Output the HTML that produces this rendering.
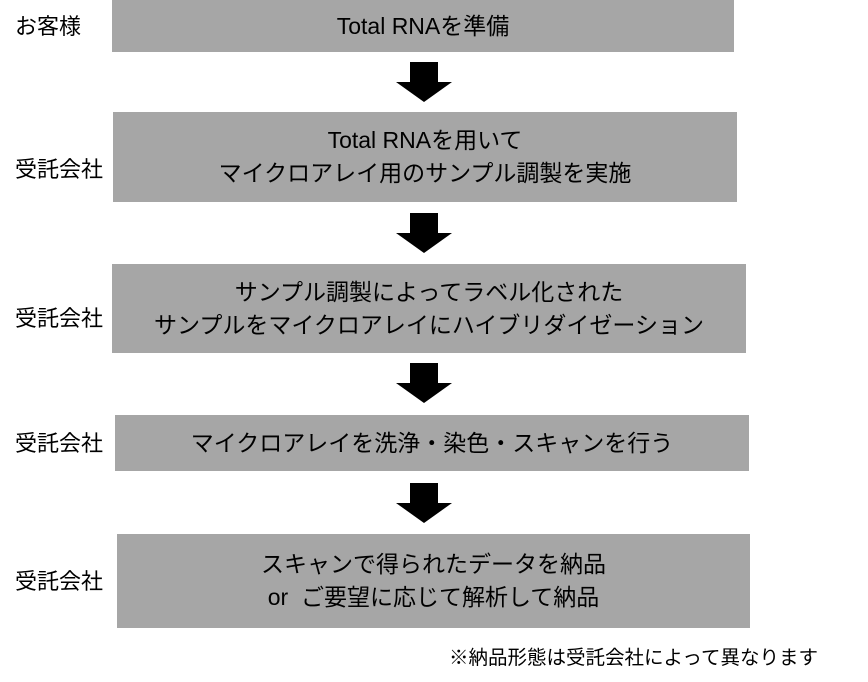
<!DOCTYPE html>
<html><head><meta charset="utf-8"><style>
body{margin:0;width:868px;height:682px;background:#fff;position:relative;overflow:hidden;font-family:"Liberation Sans","Noto Sans CJK JP",sans-serif;color:#000}
.b{position:absolute;background:#a6a6a6;display:flex;align-items:center;justify-content:center;text-align:center;font-size:23px;line-height:33px}
.l{position:absolute;left:15px;font-size:22px;line-height:26px}
.a{position:absolute;left:396px;width:56px;height:40px}
</style></head><body>
<div class="b" style="left:112px;top:0;width:622px;height:52px">Total RNAを準備</div>
<div class="l" style="top:14px">お客様</div>
<svg class="a" style="top:62px" viewBox="0 0 56 40"><polygon points="14,0 42,0 42,20 56,20 28,40 0,20 14,20" fill="#000"/></svg>
<div class="b" style="left:113px;top:112px;width:624px;height:90px">Total RNAを用いて<br>マイクロアレイ用のサンプル調製を実施</div>
<div class="l" style="top:157px">受託会社</div>
<svg class="a" style="top:213px" viewBox="0 0 56 40"><polygon points="14,0 42,0 42,20 56,20 28,40 0,20 14,20" fill="#000"/></svg>
<div class="b" style="left:112px;top:264px;width:634px;height:89px">サンプル調製によってラベル化された<br>サンプルをマイクロアレイにハイブリダイゼーション</div>
<div class="l" style="top:306px">受託会社</div>
<svg class="a" style="top:363px" viewBox="0 0 56 40"><polygon points="14,0 42,0 42,20 56,20 28,40 0,20 14,20" fill="#000"/></svg>
<div class="b" style="left:115px;top:415px;width:634px;height:56px">マイクロアレイを洗浄・染色・スキャンを行う</div>
<div class="l" style="top:431px">受託会社</div>
<svg class="a" style="top:483px" viewBox="0 0 56 40"><polygon points="14,0 42,0 42,20 56,20 28,40 0,20 14,20" fill="#000"/></svg>
<div class="b" style="left:117px;top:534px;width:633px;height:94px">スキャンで得られたデータを納品<br>or&nbsp;&nbsp;ご要望に応じて解析して納品</div>
<div class="l" style="top:569px">受託会社</div>
<div style="position:absolute;left:449px;top:645px;font-size:19.5px;line-height:26px;white-space:nowrap">※納品形態は受託会社によって異なります</div>
</body></html>
